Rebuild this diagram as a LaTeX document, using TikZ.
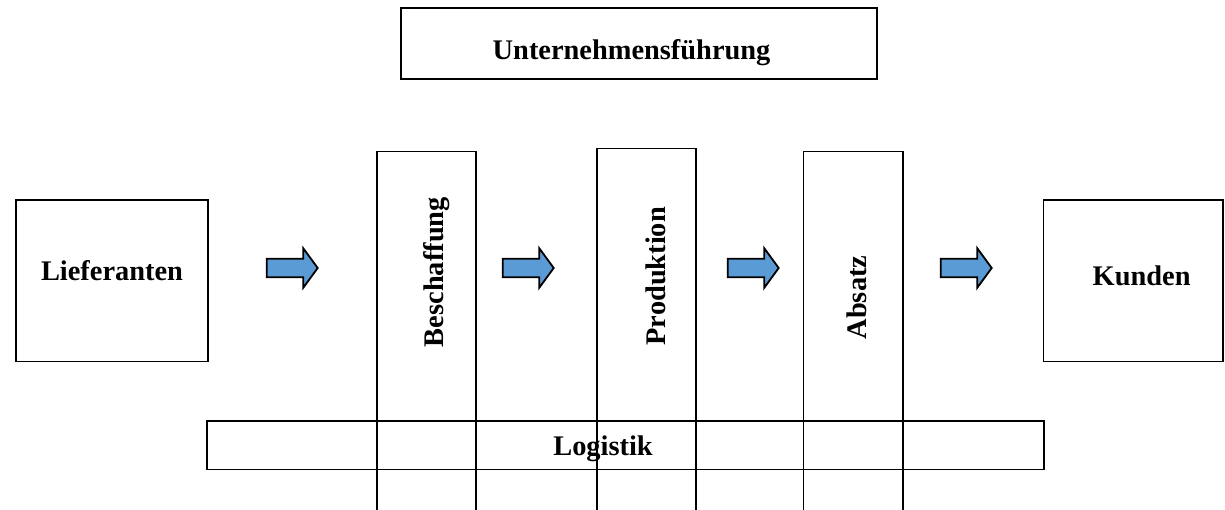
\documentclass[tikz,border=0pt]{standalone}
\usepackage{fontspec}
\setmainfont{Liberation Serif}
\definecolor{flowblue}{HTML}{5B9BD5}
\begin{document}
\begin{tikzpicture}[x=1pt, y=-1pt,
  box/.style={draw=black, line width=1.8pt, inner sep=0pt, outer sep=0pt},
  lbl/.style={inner sep=0pt, outer sep=0pt, font=\bfseries\fontsize{28.4}{34}\selectfont},
  blockarrow/.pic={
    \draw[line width=1.8pt, line join=miter, fill=flowblue]
      (0,-9.3) -- (36.6,-9.3) -- (36.6,-19.7) -- (51,0) -- (36.6,19.7)
      -- (36.6,9.3) -- (0,9.3) -- cycle;
  }]
\useasboundingbox (0,0) rectangle (1225,509);
\clip (0,0) rectangle (1225,509);

% management box on top
\node[box, minimum width=476pt, minimum height=70.4pt] (fuehrung) at (638.85,43.5) {};
\node[lbl, anchor=base west] (tfuehrung) at (492.7,59.3) {Unternehmensführung};

% suppliers and customers
\node[box, minimum width=192pt, minimum height=161.5pt] (lief) at (112,280.75) {};
\node[lbl, anchor=base west] (tlief) at (41,280) {Lieferanten};
\node[box, minimum width=179.5pt, minimum height=161.5pt] (kunden) at (1133.25,280.75) {};
\node[lbl, anchor=base west] (tkunden) at (1092.7,285) {Kunden};

% functional columns, running past the lower edge
\node[box, minimum width=99pt, minimum height=370pt] (besch) at (426.5,336.5) {};
\node[lbl, anchor=base west, rotate=90] (tbesch) at (443,347) {Beschaffung};
\node[box, minimum width=99pt, minimum height=373pt] (prod) at (646.5,335) {};
\node[lbl, anchor=base west, rotate=90] (tprod) at (665,345.4) {Produktion};
\node[box, minimum width=99.5pt, minimum height=370pt] (absatz) at (853.25,336.5) {};
\node[lbl, anchor=base west, rotate=90] (tabsatz) at (866,339.3) {Absatz};

% logistics band across the columns
\node[box, minimum width=837pt, minimum height=48.5pt] (logistik) at (625.5,445.25) {};
\node[lbl, anchor=base west] (tlogistik) at (553.3,455) {Logistik};

% flow arrows
\pic at (266.7,268) {blockarrow};
\pic at (502.7,268) {blockarrow};
\pic at (727.7,268) {blockarrow};
\pic at (940.7,268) {blockarrow};
\end{tikzpicture}
\end{document}
